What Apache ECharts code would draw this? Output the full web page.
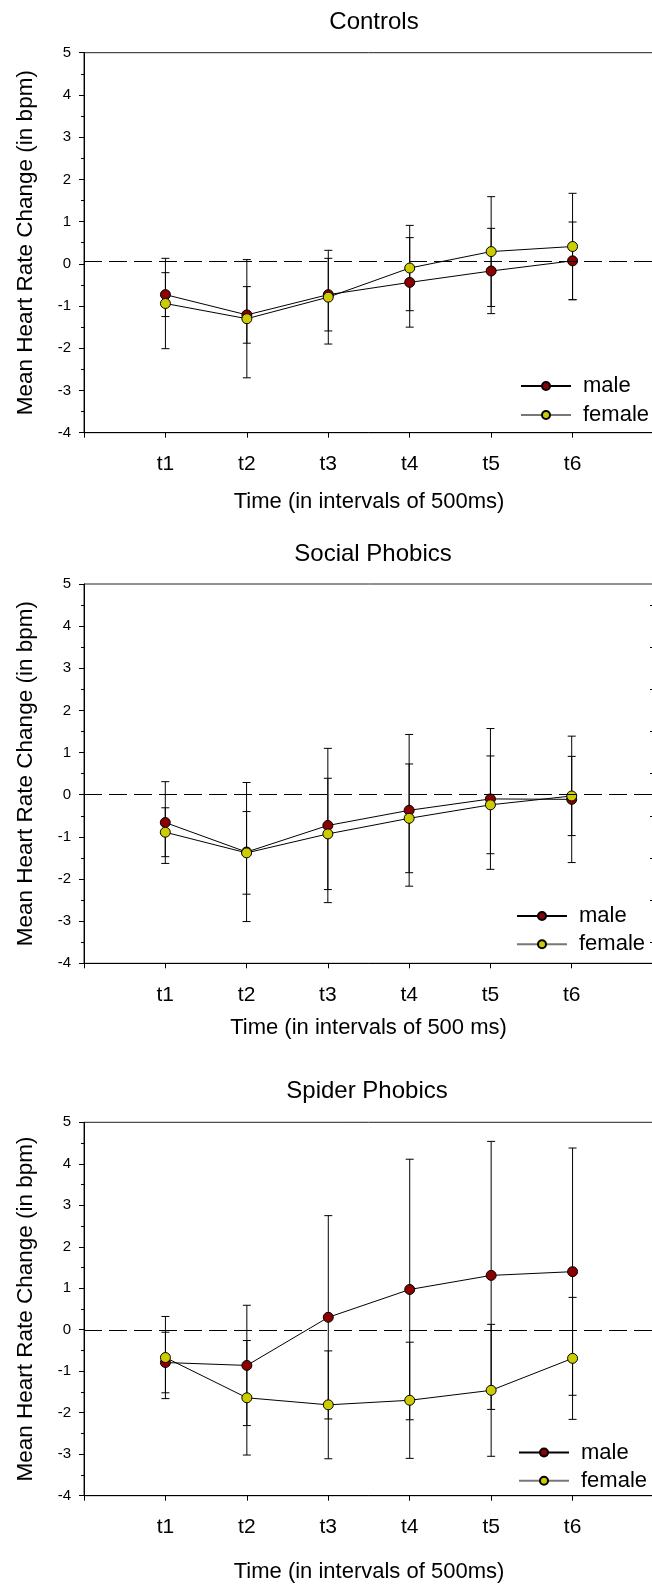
<!DOCTYPE html>
<html>
<head>
<meta charset="utf-8">
<script src="https://cdn.jsdelivr.net/npm/echarts@6/dist/echarts.min.js"></script>
<style>
html,body{margin:0;padding:0;background:#fff;}
#main{width:652px;height:1591px;}
</style>
</head>
<body>
<div id="main"></div>
<script>
// ---- data ----
const categories = ['t1', 't2', 't3', 't4', 't5', 't6'];
const yTicks = [-4, -3, -2, -1, 0, 1, 2, 3, 4, 5];
const panelTitles = ['Controls', 'Social Phobics', 'Spider Phobics'];
const xAxisTitles = ['Time (in intervals of 500ms)', 'Time (in intervals of 500 ms)', 'Time (in intervals of 500ms)'];
const yAxisTitle = 'Mean Heart Rate Change (in bpm)';
const seriesNames = ['male', 'female'];
const refLines = [0.05, 0.01, -0.02];

const controlsMale      = [-0.73, -1.21, -0.73, -0.44, -0.17, 0.07];
const controlsMaleErr   = [0.52, 0.67, 0.86, 1.06, 1.01, 0.92];
const controlsFemale    = [-0.94, -1.30, -0.79, -0.10, 0.29, 0.41];
const controlsFemaleErr = [1.07, 1.40, 1.11, 1.01, 1.30, 1.26];

const socialMale      = [-0.66, -1.36, -0.73, -0.37, -0.10, -0.11];
const socialMaleErr   = [0.97, 1.65, 1.83, 1.80, 1.67, 1.50];
const socialFemale    = [-0.89, -1.38, -0.93, -0.56, -0.24, -0.03];
const socialFemaleErr = [0.58, 0.98, 1.32, 1.29, 1.16, 0.94];

const spiderMale      = [-0.79, -0.86, 0.30, 0.97, 1.31, 1.40];
const spiderMaleErr   = [0.73, 1.45, 2.45, 3.14, 3.23, 2.98];
const spiderFemale    = [-0.67, -1.64, -1.81, -1.70, -1.46, -0.69];
const spiderFemaleErr = [0.99, 1.38, 1.30, 1.40, 1.59, 1.47];

const panels = [
  {male: controlsMale, maleErr: controlsMaleErr, female: controlsFemale, femaleErr: controlsFemaleErr},
  {male: socialMale, maleErr: socialMaleErr, female: socialFemale, femaleErr: socialFemaleErr},
  {male: spiderMale, maleErr: spiderMaleErr, female: spiderFemale, femaleErr: spiderFemaleErr}
];

// ---- layout ----
const FONT = '"Liberation Sans", Arial, sans-serif';
const layout = [
  {top: 52.7, height: 380, width: 570, titleTop: 10, titleX: 374, nameGap: 58, legendLeft: 520, legendTop: 375, legendGap: 7, rightAxis: false},
  {top: 584, height: 379.3, width: 569, titleTop: 542, titleX: 373, nameGap: 54, legendLeft: 516, legendTop: 905, legendGap: 6.3, rightAxis: true},
  {top: 1122.3, height: 373.4, width: 570, titleTop: 1079, titleX: 367, nameGap: 65, legendLeft: 518, legendTop: 1441.5, legendGap: 6.3, rightAxis: false}
];
const colors = {male: '#8b0000', female: '#cccc00'};

const option = {
  animation: false,
  backgroundColor: '#fff',
  textStyle: {fontFamily: FONT, color: '#000'},
  title: [], grid: [], xAxis: [], yAxis: [], legend: [], series: []
};

function errRender(params, api) {
  const x = api.value(0), y = api.value(1), e = api.value(2);
  const p1 = api.coord([x, y + e]);
  const p2 = api.coord([x, y - e]);
  const w = 4;
  const st = {stroke: '#000', lineWidth: 1};
  return {
    type: 'group',
    children: [
      {type: 'line', shape: {x1: p1[0], y1: p1[1], x2: p2[0], y2: p2[1]}, style: st},
      {type: 'line', shape: {x1: p1[0] - w, y1: p1[1], x2: p1[0] + w, y2: p1[1]}, style: st},
      {type: 'line', shape: {x1: p2[0] - w, y1: p2[1], x2: p2[0] + w, y2: p2[1]}, style: st}
    ]
  };
}

let yIdx = 0;
panels.forEach((pd, i) => {
  const L = layout[i];
  option.title.push({
    text: panelTitles[i], left: L.titleX, top: L.titleTop, textAlign: 'center', padding: 0,
    textStyle: {fontFamily: FONT, fontSize: 24, fontWeight: 'normal', color: '#000'}
  });
  option.grid.push({
    left: 84, top: L.top, width: L.width, height: L.height,
    outerBoundsMode: 'none', containLabel: false,
    show: true, borderColor: '#222', borderWidth: 1, backgroundColor: 'transparent'
  });
  option.xAxis.push({
    type: 'value', gridIndex: i, min: 0, max: categories.length + 1, interval: 1,
    name: xAxisTitles[i], nameLocation: 'middle', nameGap: L.nameGap,
    nameTextStyle: {fontFamily: FONT, fontSize: 22, color: '#000'},
    axisLine: {show: true, onZero: false, lineStyle: {color: '#000', width: 1}},
    axisTick: {show: true, length: 5, lineStyle: {color: '#000'}},
    axisLabel: {
      fontFamily: FONT, fontSize: 21, color: '#000', margin: 21,
      formatter: v => (v >= 1 && v <= categories.length) ? categories[v - 1] : ''
    },
    splitLine: {show: false}
  });
  const mainY = yIdx;
  option.yAxis.push({
    type: 'value', gridIndex: i, min: yTicks[0], max: yTicks[yTicks.length - 1], interval: 1,
    name: yAxisTitle, nameLocation: 'middle', nameRotate: 90, nameGap: 47,
    nameTextStyle: {fontFamily: FONT, fontSize: 22.5, color: '#000'},
    axisLine: {show: true, onZero: false, lineStyle: {color: '#000', width: 1}},
    axisTick: {show: true, length: 5, lineStyle: {color: '#000'}},
    minorTick: {show: true, splitNumber: 2, length: 3, lineStyle: {color: '#000'}},
    axisLabel: {fontFamily: FONT, fontSize: 15, color: '#000', margin: 13},
    splitLine: {show: false}
  });
  yIdx++;
  if (L.rightAxis) {
    option.yAxis.push({
      type: 'value', gridIndex: i, position: 'right', min: yTicks[0], max: yTicks[yTicks.length - 1], interval: 1,
      axisLine: {show: true, onZero: false, lineStyle: {color: '#000', width: 1}},
      axisTick: {show: false, inside: true},
      minorTick: {show: true, splitNumber: 2, length: 3, lineStyle: {color: '#000'}},
      axisLabel: {show: false},
      splitLine: {show: false}
    });
    yIdx++;
  }
  option.legend.push({
    orient: 'vertical', left: L.legendLeft, top: L.legendTop, padding: 0,
    itemWidth: 50, itemHeight: 10, itemGap: L.legendGap,
    textStyle: {fontFamily: FONT, fontSize: 22, lineHeight: 22, color: '#000', padding: [0, 0, 0, 7]},
    data: [{name: 'male'}, {name: 'female', lineStyle: {color: '#777'}}],
    selectedMode: false
  });
  const mk = arr => arr.map((v, k) => [k + 1, v]);
  const mkErr = (m, e) => m.map((v, k) => [k + 1, v, e[k]]);
  option.series.push({
    type: 'custom', xAxisIndex: i, yAxisIndex: mainY, renderItem: errRender,
    data: mkErr(pd.male, pd.maleErr), z: 1, silent: true
  });
  option.series.push({
    type: 'custom', xAxisIndex: i, yAxisIndex: mainY, renderItem: errRender,
    data: mkErr(pd.female, pd.femaleErr), z: 1, silent: true
  });
  option.series.push({
    name: seriesNames[0], type: 'line', xAxisIndex: i, yAxisIndex: mainY, data: mk(pd.male),
    symbol: 'circle', symbolSize: 10, z: 3,
    lineStyle: {color: '#000', width: 1},
    itemStyle: {color: colors.male, borderColor: '#000', borderWidth: 1},
    markLine: {
      silent: true, symbol: 'none', label: {show: false},
      lineStyle: {color: '#000', width: 1, type: [18, 7]},
      data: [{yAxis: refLines[i]}]
    }
  });
  option.series.push({
    name: seriesNames[1], type: 'line', xAxisIndex: i, yAxisIndex: mainY, data: mk(pd.female),
    symbol: 'circle', symbolSize: 10, z: 4,
    lineStyle: {color: '#000', width: 1},
    itemStyle: {color: colors.female, borderColor: '#000', borderWidth: 1}
  });
});

const chart = echarts.init(document.getElementById('main'), null, {renderer: 'canvas'});
chart.setOption(option);
</script>
</body>
</html>
